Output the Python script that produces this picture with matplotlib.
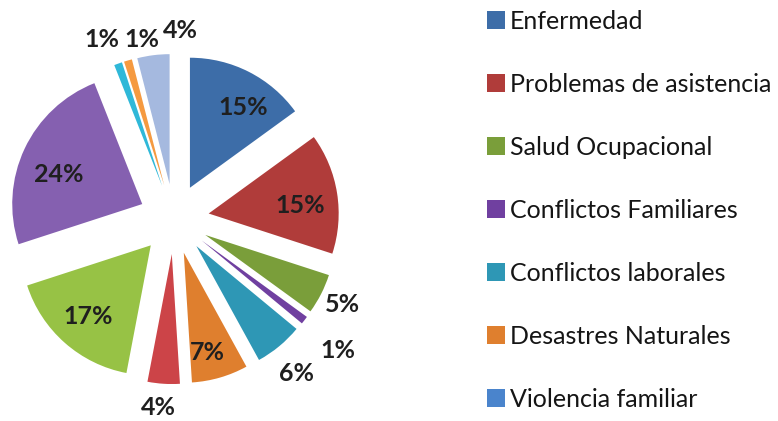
import numpy as np
import matplotlib
matplotlib.use("Agg")
import matplotlib.pyplot as plt
from matplotlib.patches import Patch

plt.rcParams['font.family'] = ['Lato', 'DejaVu Sans']

# legend categories (only these appear in the legend)
categorias = ["Enfermedad", "Problemas de asistencia", "Salud Ocupacional",
              "Conflictos Familiares", "Conflictos laborales",
              "Desastres Naturales", "Violencia familiar"]
# slice values, clockwise from 12 o'clock (percent)
valores = [15, 15, 5, 1, 6, 7, 4, 17, 24, 1, 1, 4]
etiquetas = ["15%", "15%", "5%", "1%", "6%", "7%", "4%", "17%", "24%", "1%", "1%", "4%"]

colores = ["#3D6DA8", "#B03C3A", "#7A9E3A", "#7040A0", "#2E97B5", "#DF7F2E",
           "#CC4448", "#97C245", "#8560B0", "#2FB8D8", "#F59A40", "#A5B9DF"]
colores_leyenda = colores[:6] + ["#4A84CC"]

# label placement (distance from centre in radii, angle nudge in degrees)
dist_lab = [1.007, 0.976, 1.454, 1.615, 1.516, 1.059, 1.454, 0.997, 0.955, 1.485, 1.402, 1.454]
nudge = [-5, -3, 0, -1, -1, -2, -1, 0, 4, 2, -6, -9]

R_PX = 130.0  # pie radius in pixels
CX, CY = 174, 202  # pie centre in pixels from left / bottom

fig = plt.figure(figsize=(7.78, 4.21), dpi=100)
ax = fig.add_axes([0, 0, 400 / 778, 1])

explode = [0.27] * len(valores)
wedges, _ = ax.pie(valores, colors=colores, startangle=90, counterclock=False,
                   explode=explode, radius=1.0,
                   wedgeprops=dict(linewidth=0))

for w, txt, d, dn in zip(wedges, etiquetas, dist_lab, nudge):
    ang = np.deg2rad((w.theta1 + w.theta2) / 2 + dn)
    ax.text(d * np.cos(ang), d * np.sin(ang), txt, ha='center', va='center',
            fontsize=18, fontweight='bold', color='#1f1f1f')

ax.set_xlim(-CX / R_PX, (400 - CX) / R_PX)
ax.set_ylim(-CY / R_PX, (421 - CY) / R_PX)
ax.set_aspect('auto')
ax.axis('off')

handles = [Patch(facecolor=c, edgecolor='none') for c in colores_leyenda]
fig.legend(handles, categorias, loc='upper left',
           bbox_to_anchor=(487 / 778, 1 - 10 / 421), frameon=False,
           fontsize=18, handlelength=0.72, handleheight=0.72,
           handletextpad=0.18, labelspacing=1.60, borderpad=0, borderaxespad=0,
           labelcolor='#151515')

fig.savefig("out.png", dpi=100, facecolor='white')
